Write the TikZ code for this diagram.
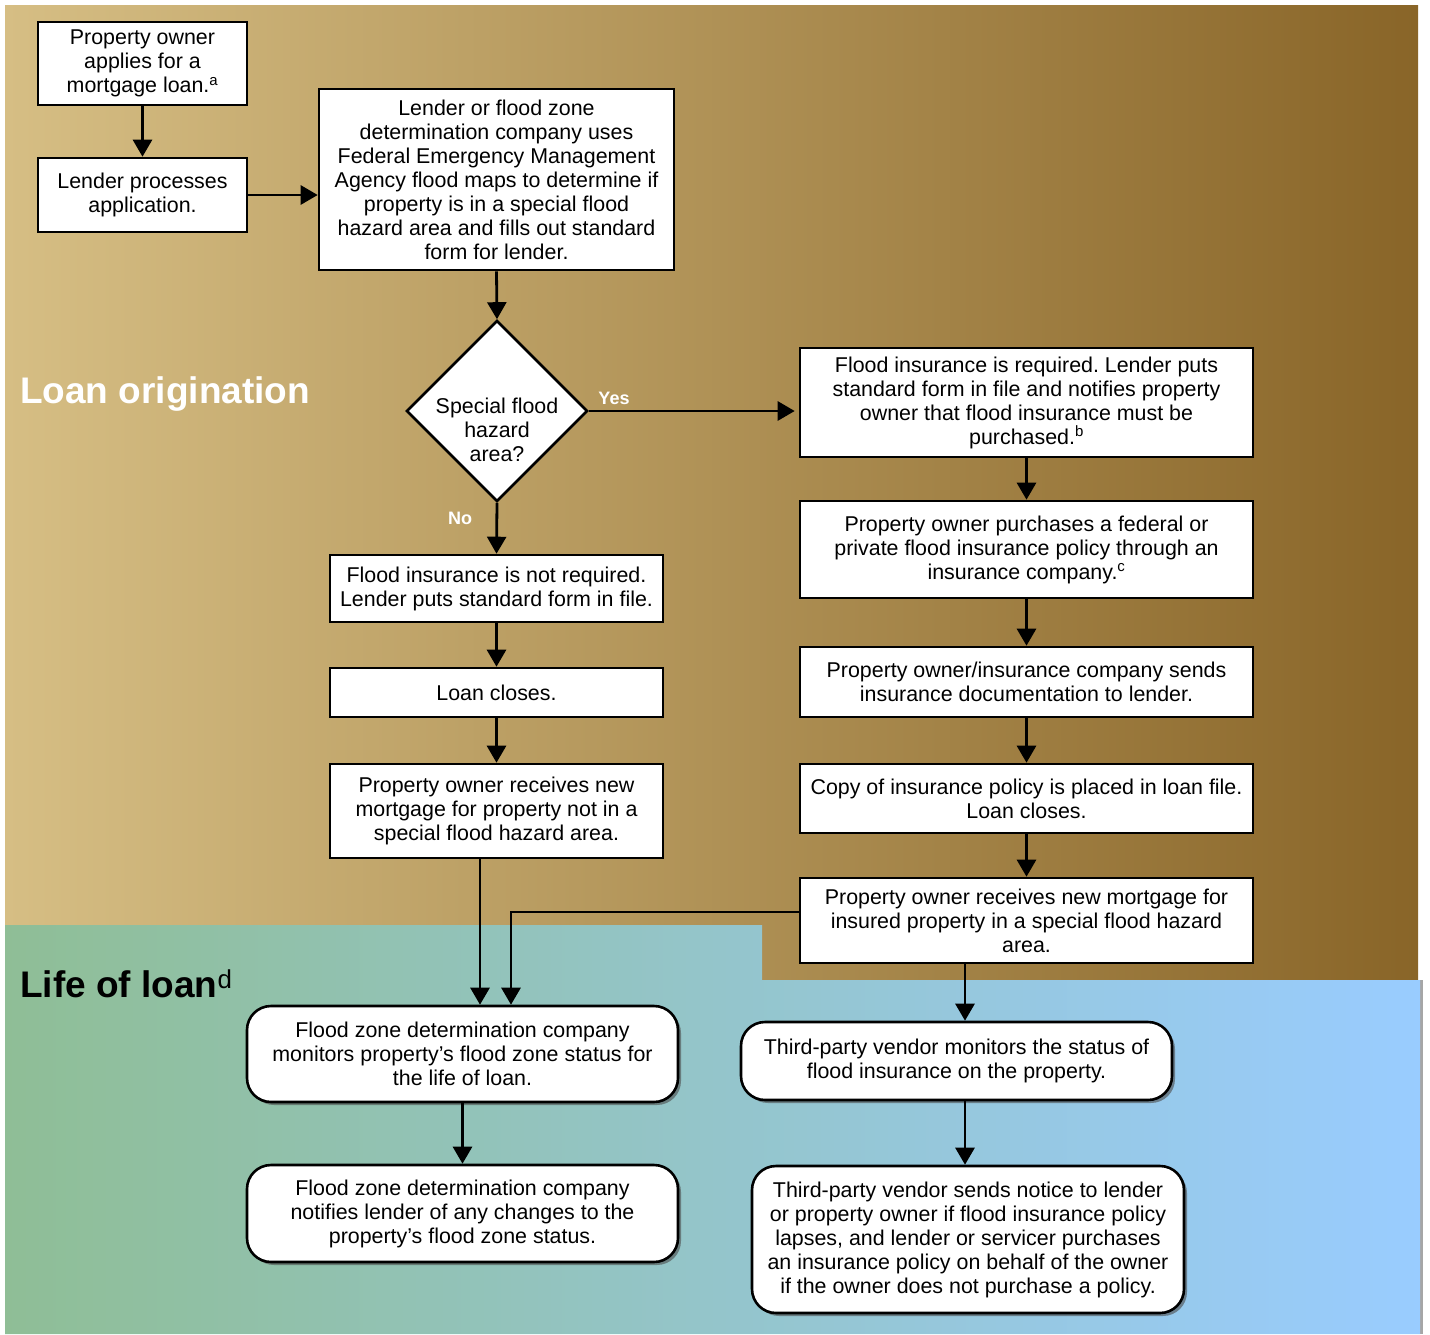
\documentclass[tikz,border=0pt]{standalone}
\usepackage{fontspec}
\setmainfont{Liberation Sans}
\usetikzlibrary{shapes.geometric,arrows.meta,shadows}
\definecolor{goldL}{RGB}{214,190,132}
\definecolor{goldR}{RGB}{137,101,40}
\definecolor{greenL}{RGB}{143,190,150}
\definecolor{blueR}{RGB}{153,204,255}
\frenchspacing
\begin{document}
\begin{tikzpicture}[x=1pt,y=-1pt,
 box/.style={draw, line width=2.6pt, fill=white, align=center, inner sep=0pt, font=\fontsize{21.4}{24}\selectfont},
 rbox/.style={box, rounded corners=24pt, drop shadow={shadow xshift=3pt, shadow yshift=-3pt, opacity=0.6, fill=black!70}},
 arr/.style={line width=2.8pt, -{Triangle[length=17pt,width=19pt]}},
 lab/.style={text=white, inner sep=0pt, font=\bfseries\fontsize{18}{20}\selectfont},
 sec/.style={font=\bfseries\fontsize{37}{40}\selectfont, anchor=west, inner sep=0pt}]

\useasboundingbox (0,0) rectangle (1430,1334);

% backgrounds
\shade[left color=goldL, right color=goldR] (5,5) -- (1418,5) -- (1418,980) -- (762,980) -- (762,925) -- (5,925) -- cycle;
\fill[gray!70] (1420,980) rectangle (1423,1334);
\shade[left color=greenL, right color=blueR] (5,925) -- (762,925) -- (762,980) -- (1420,980) -- (1420,1334) -- (5,1334) -- cycle;

% section titles
\node[sec, text=white] (t1) at (20,394) {Loan origination};
\node[sec, text=black] (t2) at (20,984) {Life of loan\textsuperscript{\mdseries d}};

% left column
\node[box, minimum width=209pt, minimum height=83pt] (n1) at (142.5,63.5) {Property owner\\applies for a\\mortgage loan.\textsuperscript{a}};
\node[box, minimum width=209pt, minimum height=74pt] (n2) at (142.5,195) {Lender processes\\application.};
\node[box, minimum width=355pt, minimum height=181pt] (n3) at (496.5,179.5) {Lender or flood zone\\determination company uses\\Federal Emergency Management\\Agency flood maps to determine if\\property is in a special flood\\hazard area and fills out standard\\form for lender.};
\node[diamond, draw, line width=2.6pt, fill=white, minimum width=181pt, minimum height=181pt, inner sep=0pt] (d) at (497,411) {};
\node[align=center, inner sep=0pt, font=\fontsize{21.4}{24}\selectfont] (dt) at (497,430) {Special flood\\hazard\\area?};
\node[box, minimum width=333pt, minimum height=67pt] (n5) at (496.5,588.5) {Flood insurance is not required.\\Lender puts standard form in file.};
\node[box, minimum width=333pt, minimum height=49pt] (n6) at (496.5,692.5) {Loan closes.};
\node[box, minimum width=333pt, minimum height=94pt] (n7) at (496.5,811) {Property owner receives new\\mortgage for property not in a\\special flood hazard area.};

% right column
\node[box, minimum width=453pt, minimum height=109pt] (n8) at (1026.5,402.5) {Flood insurance is required. Lender puts\\standard form in file and notifies property\\owner that flood insurance must be\\purchased.\textsuperscript{b}};
\node[box, minimum width=453pt, minimum height=97pt] (n9) at (1026.5,549.5) {Property owner purchases a federal or\\private flood insurance policy through an\\insurance company.\textsuperscript{c}};
\node[box, minimum width=453pt, minimum height=70pt] (n10) at (1026.5,682) {Property owner/insurance company sends\\insurance documentation to lender.};
\node[box, minimum width=453pt, minimum height=69pt] (n11) at (1026.5,798.5) {Copy of insurance policy is placed in loan file.\\Loan closes.};
\node[box, minimum width=453pt, minimum height=85pt] (n12) at (1026.5,920.5) {Property owner receives new mortgage for\\insured property in a special flood hazard\\area.};

% life of loan
\node[rbox, minimum width=431pt, minimum height=96pt] (n13) at (462.5,1054) {Flood zone determination company\\monitors property’s flood zone status for\\the life of loan.};
\node[rbox, minimum width=431pt, minimum height=97pt] (n14) at (462.5,1213.5) {Flood zone determination company\\notifies lender of any changes to the\\property’s flood zone status.};
\node[rbox, minimum width=431pt, minimum height=78pt] (n15) at (956.5,1061) {Third-party vendor monitors the status of\\flood insurance on the property.};
\node[rbox, minimum width=432pt, minimum height=147pt] (n16) at (968,1239.5) {Third-party vendor sends notice to lender\\or property owner if flood insurance policy\\lapses, and lender or servicer purchases\\an insurance policy on behalf of the owner\\if the owner does not purchase a policy.};

% helper coordinates
\coordinate (xa) at (480,0);
\coordinate (xb) at (511,912);
\coordinate (xc) at (965,0);

% connectors
\draw[arr] (n1) -- (n2);
\draw[arr] (n2.east) -- (n2.east -| n3.west);
\draw[arr] (n3.south) -- (d.north);
\draw[arr] (d.east) -- ([xshift=-4pt]d.east -| n8.west);
\draw[arr] (d.south) -- (n5.north);
\draw[arr] (n5) -- (n6);
\draw[arr] (n6) -- (n7);
\draw[arr] (n8) -- (n9);
\draw[arr] (n9) -- (n10);
\draw[arr] (n10) -- (n11);
\draw[arr] (n11) -- (n12);
\draw[arr] (n7.south -| xa) -- (n13.north -| xa);
\draw[arr] (n12.west |- xb) -| (n13.north -| xb);
\draw[arr] (n12.south -| xc) -- (n15.north -| xc);
\draw[arr] (n15.south -| xc) -- (n16.north -| xc);
\draw[arr] (n13) -- (n14);

% edge labels
\node[lab] (yes) at (614,398) {Yes};
\node[lab] (no) at (460,518) {No};
\end{tikzpicture}
\end{document}
